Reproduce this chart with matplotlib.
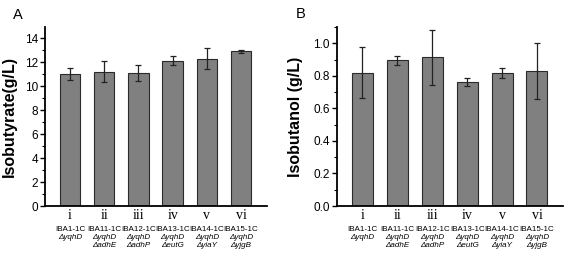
import matplotlib
matplotlib.use("Agg")
import matplotlib.pyplot as plt
from matplotlib.ticker import MultipleLocator
import matplotlib.transforms as mtransforms

plt.rcParams['font.family'] = ['Liberation Sans', 'DejaVu Sans']

roman = ["i", "ii", "iii", "iv", "v", "vi"]
strains = ["IBA1-1C", "IBA11-1C", "IBA12-1C", "IBA13-1C", "IBA14-1C", "IBA15-1C"]
del1 = ["ΔyqhD", "ΔyqhD", "ΔyqhD", "ΔyqhD", "ΔyqhD", "ΔyqhD"]
del2 = ["", "ΔadhE", "ΔadhP", "ΔeutG", "ΔyiaY", "ΔyjgB"]

isobutyrate = [11.0, 11.22, 11.1, 12.15, 12.32, 12.92]
isobutyrate_err = [0.5, 0.9, 0.68, 0.4, 0.85, 0.15]
isobutanol = [0.82, 0.897, 0.913, 0.762, 0.818, 0.83]
isobutanol_err = [0.155, 0.028, 0.167, 0.025, 0.033, 0.17]

fig = plt.figure(figsize=(5.7, 2.59), dpi=100)
axA = fig.add_axes([0.079, 0.2046, 0.389, 0.691])
axB = fig.add_axes([0.591, 0.2046, 0.397, 0.691])

x = list(range(1, 7))

def style(ax, vals, errs, ylim, major, minor, ylabel, fmt):
    ax.bar(x, vals, width=0.6, color="#808080", edgecolor="#2a2a2a", linewidth=0.8,
           yerr=errs, error_kw=dict(ecolor="#222222", elinewidth=0.9, capsize=2, capthick=0.9))
    ax.set_xlim(0.27, 6.75)
    ax.set_ylim(*ylim)
    ax.yaxis.set_major_locator(MultipleLocator(major))
    ax.yaxis.set_minor_locator(MultipleLocator(minor))
    ax.yaxis.set_major_formatter(fmt)
    for s in ["top", "right"]:
        ax.spines[s].set_visible(False)
    for s in ["left", "bottom"]:
        ax.spines[s].set_linewidth(1.3)
    ax.tick_params(axis="y", which="major", direction="out", length=3.5, width=1, labelsize=8.5, pad=1.5)
    ax.tick_params(axis="y", which="minor", direction="out", length=2, width=0.8)
    ax.set_xticks(x)
    ax.set_xticklabels(roman, fontfamily="Liberation Serif", fontsize=10)
    ax.tick_params(axis="x", length=0, pad=2)
    ax.set_ylabel(ylabel, fontsize=11.5, fontweight="bold", labelpad=1)
    trans = mtransforms.blended_transform_factory(ax.transData, ax.transAxes)
    for xi, s, d1, d2 in zip(x, strains, del1, del2):
        ax.text(xi, -0.134, s, transform=trans, ha="center", va="center", fontsize=5.8)
        ax.text(xi, -0.177, d1, transform=trans, ha="center", va="center", fontsize=5.8, style="italic")
        if d2:
            ax.text(xi, -0.218, d2, transform=trans, ha="center", va="center", fontsize=5.8, style="italic")

style(axA, isobutyrate, isobutyrate_err, (0, 14.95), 2, 1, "Isobutyrate(g/L)", "{x:.0f}")
style(axB, isobutanol, isobutanol_err, (0, 1.1), 0.2, 0.1, "Isobutanol (g/L)", "{x:.1f}")
axA.yaxis.set_label_coords(-0.125, 0.5)
axB.yaxis.set_label_coords(-0.15, 0.5)

fig.text(13 / 570, 1 - 15 / 259, "A", fontsize=10.5, va="center", ha="left")
fig.text(296 / 570, 1 - 14 / 259, "B", fontsize=10.5, va="center", ha="left")

fig.savefig("out.png", dpi=100)
